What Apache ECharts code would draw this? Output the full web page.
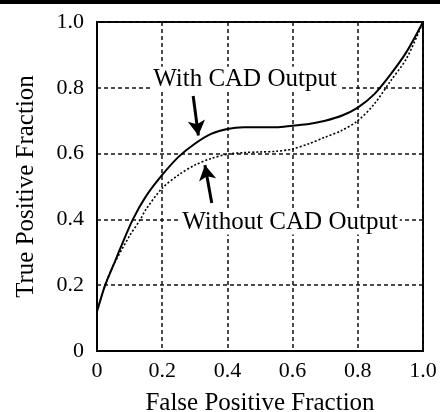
<!DOCTYPE html>
<html>
<head>
<meta charset="utf-8">
<script src="https://cdn.jsdelivr.net/npm/echarts@6/dist/echarts.min.js"></script>
<style>
  html, body { margin: 0; padding: 0; background: #fff; }
  #chart { width: 444px; height: 412px; }
</style>
</head>
<body>
<div id="chart"></div>
<script>
// ROC curves
var withX = [0, 0.025, 0.05, 0.075, 0.11, 0.15, 0.2, 0.25, 0.3, 0.35, 0.4, 0.45, 0.5, 0.55, 0.6, 0.65, 0.7, 0.75, 0.8, 0.85, 0.9, 0.95, 1.0]
var withY = [0.12, 0.2, 0.26, 0.32, 0.4, 0.47, 0.535, 0.59, 0.63, 0.66, 0.675, 0.68, 0.68, 0.68, 0.685, 0.69, 0.7, 0.715, 0.74, 0.78, 0.84, 0.91, 1.0]
var withoutX = [0, 0.025, 0.05, 0.1, 0.133, 0.15, 0.2, 0.25, 0.3, 0.35, 0.4, 0.45, 0.5, 0.55, 0.6, 0.65, 0.7, 0.75, 0.8, 0.85, 0.9, 0.95, 1.0]
var withoutY = [0.12, 0.2, 0.26, 0.35, 0.4, 0.43, 0.495, 0.535, 0.565, 0.585, 0.598, 0.603, 0.605, 0.607, 0.614, 0.63, 0.65, 0.67, 0.7, 0.75, 0.82, 0.89, 1.0]
var tickLabels = ['0', '0.2', '0.4', '0.6', '0.8', '1.0']

// annotations (data coords)
var withLabel = { text: 'With CAD Output', at: [0.454, 0.826] }
var withArrow = [[0.295, 0.775], [0.311, 0.655]]
var withoutLabel = { text: 'Without CAD Output', at: [0.592, 0.392] }
var withoutArrow = [[0.352, 0.45], [0.331, 0.565]]

var FONT = '"Liberation Serif", "DejaVu Serif", serif'

function pairs (xs, ys) {
  return xs.map(function (x, i) { return [x, ys[i]] })
}
function tickFmt (v) {
  return tickLabels[Math.round(v / 0.2)]
}

var gridLine = { show: true, lineStyle: { color: '#111', width: 1.5, type: [4, 3] } }
var axisLine = { show: true, lineStyle: { color: '#000', width: 2 } }

var chart = echarts.init(document.getElementById('chart'))
var option = {
  animation: false,
  graphic: [
    { type: 'rect', shape: { x: 0, y: 0, width: 440, height: 4 }, style: { fill: '#000' } }
  ],
  grid: {
    left: 97,
    right: 21,
    top: 22,
    bottom: 61,
    outerBoundsMode: 'none',
    containLabel: false,
    show: true,
    borderColor: '#000',
    borderWidth: 2
  },
  xAxis: {
    type: 'value',
    min: 0,
    max: 1,
    interval: 0.2,
    name: 'False Positive Fraction',
    nameLocation: 'middle',
    nameGap: 40,
    nameTextStyle: { fontFamily: FONT, fontSize: 25, color: '#000' },
    axisLine: axisLine,
    axisTick: { show: false },
    axisLabel: { formatter: tickFmt, fontFamily: FONT, fontSize: 22, color: '#000', margin: 9 },
    splitLine: gridLine
  },
  yAxis: {
    type: 'value',
    min: 0,
    max: 1,
    interval: 0.2,
    name: 'True Positive Fraction',
    nameLocation: 'middle',
    nameGap: 58,
    nameTextStyle: { fontFamily: FONT, fontSize: 25, color: '#000' },
    axisLine: axisLine,
    axisTick: { show: false },
    axisLabel: { formatter: tickFmt, fontFamily: FONT, fontSize: 22, color: '#000', margin: 13 },
    splitLine: gridLine
  },
  series: [
    {
      name: 'With CAD Output',
      type: 'line',
      data: pairs(withX, withY),
      smooth: 0.3,
      showSymbol: false,
      lineStyle: { color: '#000', width: 2 },
      z: 3,
      markPoint: {
        symbol: 'rect',
        symbolSize: 0,
        data: [{ coord: withLabel.at, value: withLabel.text }],
        label: {
          show: true,
          position: 'inside',
          formatter: withLabel.text,
          fontFamily: FONT,
          fontSize: 25,
          color: '#000',
          backgroundColor: '#fff',
          padding: [0, 2]
        }
      },
      markLine: {
        silent: true,
        symbol: ['none', 'arrow'],
        symbolSize: [13, 15],
        lineStyle: { color: '#000', width: 3, type: 'solid' },
        label: { show: false },
        data: [
          [{ coord: withArrow[0] }, { coord: withArrow[1] }],
          [{ coord: withoutArrow[0] }, { coord: withoutArrow[1] }]
        ]
      }
    },
    {
      name: 'Without CAD Output',
      type: 'line',
      data: pairs(withoutX, withoutY),
      smooth: 0.3,
      showSymbol: false,
      lineStyle: { color: '#000', width: 1.6, type: [2, 2] },
      z: 3,
      markPoint: {
        symbol: 'rect',
        symbolSize: 0,
        data: [{ coord: withoutLabel.at, value: withoutLabel.text }],
        label: {
          show: true,
          position: 'inside',
          formatter: withoutLabel.text,
          fontFamily: FONT,
          fontSize: 25,
          color: '#000',
          backgroundColor: '#fff',
          padding: [0, 2]
        }
      }
    }
  ]
}
chart.setOption(option)
</script>
</body>
</html>
